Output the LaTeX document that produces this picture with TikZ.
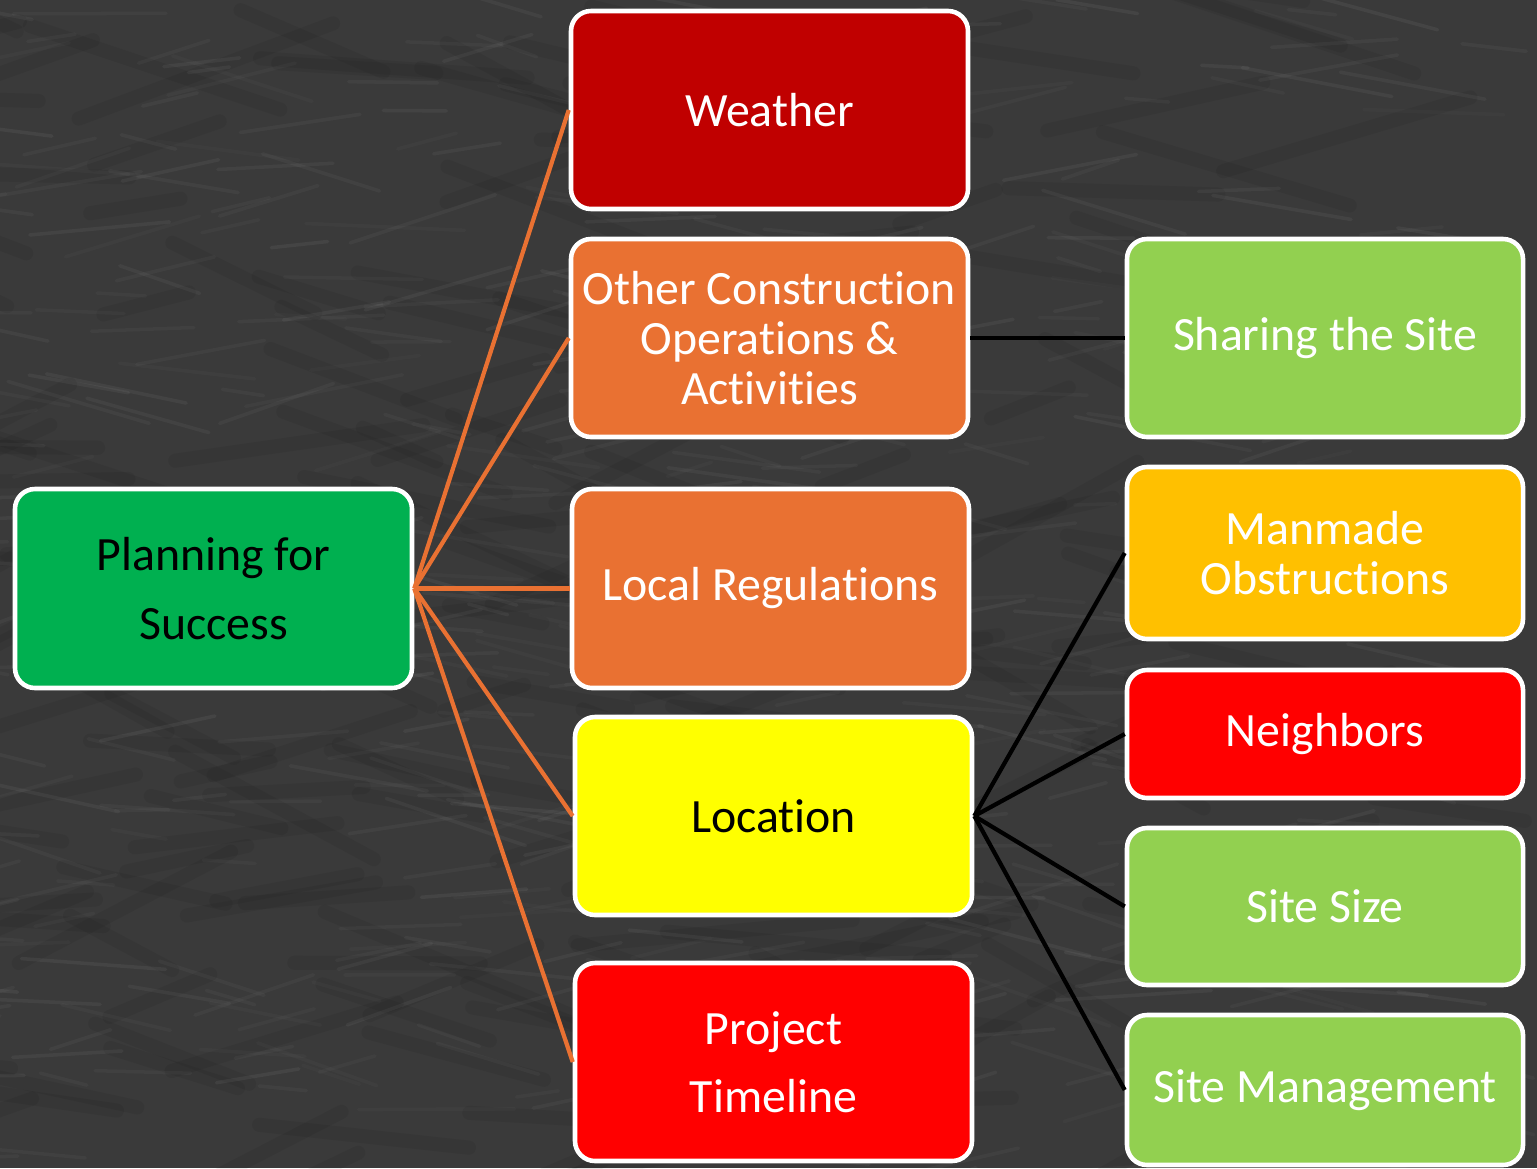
\documentclass[tikz,border=0pt]{standalone}
\usepackage{fontspec}
\setmainfont{Carlito}[Ligatures=NoCommon]
\usepackage{tikz}
\usetikzlibrary{calc}
\definecolor{boardgray}{HTML}{3A3A3A}
\definecolor{darkred}{HTML}{C00000}
\definecolor{orangebox}{HTML}{E97132}
\definecolor{greenbox}{HTML}{00B050}
\definecolor{limebox}{HTML}{92D050}
\definecolor{ambbox}{HTML}{FFC000}
\definecolor{yellowbox}{HTML}{FFFF00}
\definecolor{orangeline}{HTML}{E97132}
\tikzset{
	box/.style={draw=white, line width=1.3pt, rounded corners=0.2cm, minimum width=3.97cm, align=center, font=\fontsize{13.6}{14.2}\selectfont, text=white},
	branch/.style={orangeline, line width=1.2pt},
	twig/.style={black, line width=1.2pt}
}

\begin{document}
\begin{tikzpicture}
			%%%%% BOARD %%%%%
			\useasboundingbox (0, 0) rectangle (15.37, 11.68);
			\fill[boardgray] (0, 0) rectangle (15.37, 11.68);
			\begin{scope}
				\clip (0, 0) rectangle (15.37, 11.68);
				\pgfmathsetseed{7}
				\foreach \i in {1,...,500}{
					\pgfmathsetmacro{\sx}{15.37*rnd}
					\pgfmathsetmacro{\sy}{11.68*rnd}
					\pgfmathsetmacro{\sa}{160+40*rnd}
					\pgfmathsetmacro{\sl}{0.4+1.2*rnd}
					\pgfmathsetmacro{\so}{0.02+0.03*rnd}
					\draw[white, opacity=\so, line width=1pt, line cap=round] (\sx, \sy) -- ++(\sa:\sl);
				}
				\foreach \i in {1,...,200}{
					\pgfmathsetmacro{\sx}{15.37*rnd}
					\pgfmathsetmacro{\sy}{11.68*rnd}
					\pgfmathsetmacro{\sa}{150+60*rnd}
					\pgfmathsetmacro{\sl}{0.8+2.0*rnd}
					\draw[black, opacity=0.06, line width=4pt, line cap=round] (\sx, \sy) -- ++(\sa:\sl);
				}
			\end{scope}
			
			%%%%% BOXES %%%%%
			\node[box, fill=greenbox, text=black, minimum height=1.99cm, font=\fontsize{13.6}{19.6}\selectfont] (plan) at (2.135, 5.795) {Planning for\\Success};
			
			\node[box, fill=darkred, minimum height=1.98cm] (weather) at (7.695, 10.58) {Weather};
			\node[box, fill=orangebox, minimum height=1.98cm] (other) at (7.695, 8.30) {Other Construction\\Operations \&\\Activities};
			\node[box, fill=orangebox, minimum height=1.99cm] (regs) at (7.705, 5.795) {Local Regulations};
			\node[box, fill=yellowbox, text=black, minimum height=1.98cm] (loc) at (7.735, 3.52) {Location};
			\node[box, fill=red, minimum height=1.98cm, font=\fontsize{13.6}{19.4}\selectfont] (timeline) at (7.735, 1.06) {Project\\Timeline};
			
			\node[box, fill=limebox, minimum width=3.96cm, minimum height=1.98cm] (sharing) at (13.25, 8.30) {Sharing the Site};
			\node[box, fill=ambbox, minimum width=3.96cm, minimum height=1.72cm] (manmade) at (13.25, 6.15) {Manmade\\Obstructions};
			\node[box, fill=red, minimum width=3.96cm, minimum height=1.28cm] (neighbors) at (13.25, 4.34) {Neighbors};
			\node[box, fill=limebox, minimum width=3.96cm, minimum height=1.57cm] (sitesize) at (13.25, 2.615) {Site Size};
			\node[box, fill=limebox, minimum width=3.96cm, minimum height=1.50cm] (sitemgmt) at (13.25, 0.78) {Site Management};
			
			%%%%% LINES %%%%%
			\draw[branch] (plan.east) -- (weather.west);
			\draw[branch] (plan.east) -- (other.west);
			\draw[branch] (plan.east) -- (regs.west);
			\draw[branch] (plan.east) -- (loc.west);
			\draw[branch] (plan.east) -- (timeline.west);
			
			\draw[twig] (other.east) -- (sharing.west);
			\draw[twig] (loc.east) -- (manmade.west);
			\draw[twig] (loc.east) -- (neighbors.west);
			\draw[twig] (loc.east) -- (sitesize.west);
			\draw[twig] (loc.east) -- (sitemgmt.west);
\end{tikzpicture}
\end{document}
